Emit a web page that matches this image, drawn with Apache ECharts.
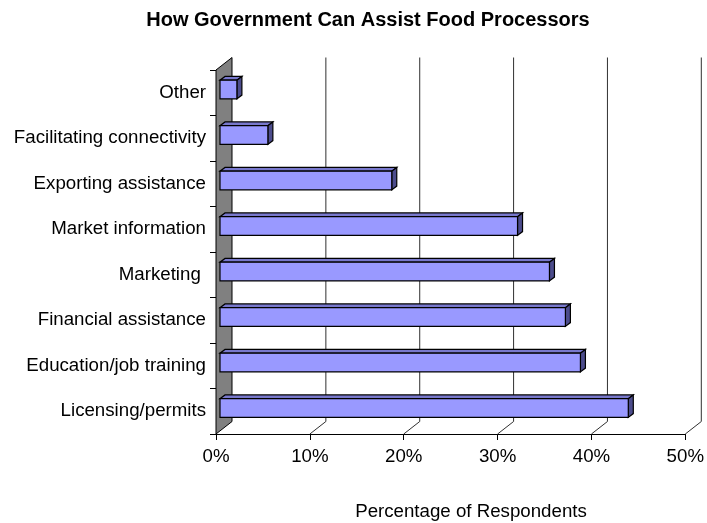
<!DOCTYPE html>
<html>
<head>
<meta charset="utf-8">
<script src="https://cdn.jsdelivr.net/npm/echarts@6/dist/echarts.min.js"></script>
<style>html,body{margin:0;padding:0;background:#fff}#c{width:707px;height:523px}</style>
</head>
<body>
<div id="c"></div>
<script>
var chartTitle = 'How Government Can Assist Food Processors';
var axisTitle = 'Percentage of Respondents';
var categories = ['Licensing/permits', 'Education/job training', 'Financial assistance', 'Marketing ', 'Market information', 'Exporting assistance', 'Facilitating connectivity', 'Other'];
var values = [43.5, 38.4, 36.8, 35.1, 31.7, 18.3, 5.1, 1.8];
var xTicks = [0, 10, 20, 30, 40, 50];

var FONT = 'Liberation Sans, Arial, sans-serif';
var DEPTH_X = 16, DEPTH_Y = -12.5;
var BAR_F = {x: 4, y: -3.2};
var BAR_B = {x: 9, y: -7};

var chart = echarts.init(document.getElementById('c'), null, {renderer: 'canvas'});

var barData = values.map(function (v, i) { return [v, i]; });

chart.setOption({
  animation: false,
  backgroundColor: '#fff',
  title: [{
    text: chartTitle,
    left: 363, top: 5, textAlign: 'center',
    textStyle: {fontFamily: FONT, fontSize: 20, fontWeight: 'bold', color: '#000'}
  }, {
    text: axisTitle,
    left: 466, top: 497, textAlign: 'center',
    textStyle: {fontFamily: FONT, fontSize: 18.7, fontWeight: 'normal', color: '#000'}
  }],
  grid: {left: 216, right: 20, top: 70, bottom: 89, containLabel: false},
  xAxis: {
    type: 'value', min: 0, max: 50, interval: 10,
    axisLine: {show: true, lineStyle: {color: '#000', width: 1}},
    axisTick: {show: true, length: 6, lineStyle: {color: '#000'}},
    splitLine: {show: false},
    axisLabel: {formatter: '{value}%', margin: 13, fontFamily: FONT, fontSize: 18.7, color: '#000'}
  },
  yAxis: {
    type: 'category', data: categories,
    axisLine: {show: true, lineStyle: {color: '#000', width: 1}},
    axisTick: {show: true, length: 6, lineStyle: {color: '#000'}},
    axisLabel: {margin: 10, fontFamily: FONT, fontSize: 18.7, color: '#000'},
    splitLine: {show: false}
  },
  series: [{
    type: 'custom',
    z: 1,
    silent: true,
    data: xTicks,
    renderItem: function (params, api) {
      var cs = params.coordSys;
      var p = api.coord([api.value(0), 0]);
      var x = p[0];
      var yb = cs.y + cs.height;
      var yt = cs.y;
      var children = [];
      if (params.dataIndex === 0) {
        children.push({
          type: 'polygon',
          shape: {points: [[x, yt], [x, yb], [x + DEPTH_X, yb + DEPTH_Y], [x + DEPTH_X, yt + DEPTH_Y]]},
          style: {fill: '#808080', stroke: '#000', lineWidth: 1}
        });
      } else {
        children.push({
          type: 'polyline',
          shape: {points: [[x, yb], [x + DEPTH_X, yb + DEPTH_Y], [x + DEPTH_X, yt + DEPTH_Y]]},
          style: {fill: null, stroke: '#303030', lineWidth: 1}
        });
      }
      return {type: 'group', children: children};
    }
  }, {
    type: 'custom',
    z: 3,
    data: barData,
    encode: {x: 0, y: 1},
    renderItem: function (params, api) {
      var idx = api.value(1);
      var s = api.coord([0, idx]);
      var e = api.coord([api.value(0), idx]);
      var band = api.size([0, 1])[1];
      var h = band * 0.41;
      var x0 = s[0], x1 = e[0];
      var yt = s[1] - h / 2, yb = s[1] + h / 2;
      var f = BAR_F, b = BAR_B;
      return {
        type: 'group',
        children: [{
          type: 'polygon',
          shape: {points: [[x0 + f.x, yt + f.y], [x1 + f.x, yt + f.y], [x1 + b.x, yt + b.y], [x0 + b.x, yt + b.y]]},
          style: {fill: '#7878CC', stroke: '#000', lineWidth: 1.2}
        }, {
          type: 'polygon',
          shape: {points: [[x1 + f.x, yt + f.y], [x1 + b.x, yt + b.y], [x1 + b.x, yb + b.y], [x1 + f.x, yb + f.y]]},
          style: {fill: '#4C4C8C', stroke: '#000', lineWidth: 1.2}
        }, {
          type: 'rect',
          shape: {x: x0 + f.x, y: yt + f.y, width: x1 - x0, height: h},
          style: {fill: '#9999FF', stroke: '#000', lineWidth: 1.2}
        }]
      };
    }
  }]
});
</script>
</body>
</html>
